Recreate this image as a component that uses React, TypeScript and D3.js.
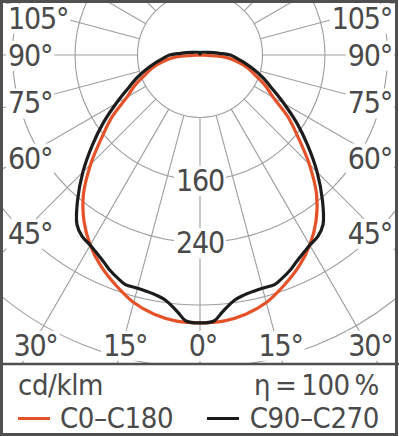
import React, { useEffect, useRef } from 'react';
import * as d3 from 'd3';

// C0-C180 (red), cd/klm vs gamma angle, symmetric
const RED_ANGLES = [0, 5, 10, 15, 20, 25, 30, 35, 40, 45, 50, 55, 60, 65, 70, 75, 80, 85, 90];
const RED_VALUES = [343, 342, 337, 328, 314, 299, 281, 259, 232, 198, 164, 137, 108, 92, 75, 63, 48, 32, 0];

// C90-C270 (black)
const BLACK_ANGLES = [0, 3, 5, 8, 10, 13, 15, 18, 20, 23, 25, 28, 30, 33, 36, 40, 45, 50, 55, 60, 65, 70, 75, 80, 85, 90, 95, 100, 110, 120, 135, 150, 165, 180];
const BLACK_VALUES = [343, 341, 330, 317, 313, 310, 309, 309, 305, 298, 292, 285, 281, 277, 268, 244, 212, 180, 151, 124, 102, 86, 71, 58, 47, 39, 25, 18, 10, 7, 5, 4, 3, 1];

const RING_VALUES = [80, 160, 240, 320, 400, 480];
const RING_LABELS = [160, 240];
const SPOKE_STEP = 15;
const ANGLE_LABELS = [0, 15, 30, 45, 60, 75, 90, 105];

const SERIES = [
  { name: 'C0\u2013C180', color: '#e5522a', angles: RED_ANGLES, values: RED_VALUES },
  { name: 'C90\u2013C270', color: '#1c1c1c', angles: BLACK_ANGLES, values: BLACK_VALUES },
];

const UNIT = 'cd/klm';
const EFFICIENCY = '\u03b7\u2009=\u2009100\u2009%';

const W = 399;
const H = 436;
const FONT = '"Liberation Sans Narrow", "DejaVu Sans Condensed", Roboto, sans-serif';
const TEXT = '#4a4a4a';
const GRID = '#9d9d9d';

const App = () => {
  const svgRef = useRef(null);

  useEffect(() => {
    const svg = d3.select(svgRef.current);
    svg.selectAll('*').remove();

    const area = { left: 3, top: 3, right: 395, bottom: 364 };
    const cx = 200;
    const cy = 55;
    const r = d3.scaleLinear().domain([0, 320]).range([0, 250]);
    const rad = (a) => (a * Math.PI) / 180;
    const pt = (a, v) => [cx + r(v) * Math.sin(rad(a)), cy + r(v) * Math.cos(rad(a))];

    svg.append('defs').append('clipPath').attr('id', 'plot-clip')
      .append('rect')
      .attr('x', area.left).attr('y', area.top)
      .attr('width', area.right - area.left).attr('height', area.bottom - area.top);

    const plot = svg.append('g').attr('clip-path', 'url(#plot-clip)');

    // rings
    plot.selectAll('circle.ring')
      .data(RING_VALUES)
      .enter().append('circle')
      .attr('class', 'ring')
      .attr('cx', cx).attr('cy', cy)
      .attr('r', d => r(d))
      .attr('fill', 'none')
      .attr('stroke', GRID)
      .attr('stroke-width', 1.1);

    // spokes, starting at the first ring
    plot.selectAll('line.spoke')
      .data(d3.range(0, 360, SPOKE_STEP))
      .enter().append('line')
      .attr('class', 'spoke')
      .attr('x1', d => pt(d, RING_VALUES[0])[0])
      .attr('y1', d => pt(d, RING_VALUES[0])[1])
      .attr('x2', d => pt(d, 800)[0])
      .attr('y2', d => pt(d, 800)[1])
      .attr('stroke', GRID)
      .attr('stroke-width', 1.1);

    // labels with white box behind
    const labels = plot.append('g')
      .attr('font-family', FONT)
      .attr('font-size', 30)
      .attr('letter-spacing', -1.2)
      .attr('fill', TEXT);

    const addLabel = (txt, x, y, anchor) => {
      const g = labels.append('g');
      const t = g.append('text')
        .attr('x', x).attr('y', y)
        .attr('dy', '0.36em')
        .attr('text-anchor', anchor)
        .text(txt);
      const b = t.node().getBBox();
      g.insert('rect', 'text')
        .attr('x', b.x - 2).attr('y', b.y + 3)
        .attr('width', b.width + 4).attr('height', b.height - 5)
        .attr('fill', '#fff');
    };

    RING_LABELS.forEach(v => addLabel(String(v), cx, cy + r(v), 'middle'));

    const bottomY = 345;
    const sideX = 178;
    ANGLE_LABELS.forEach(a => {
      [-1, 1].forEach(s => {
        if (a === 0 && s === 1) return;
        const txt = `${a}\u00b0`;
        if (a <= 30) {
          const x = cx + s * (bottomY - cy) * Math.tan(rad(a));
          addLabel(txt, x + 3, bottomY, 'middle');
        } else {
          const y = a === 90 ? cy : cy + sideX / Math.tan(rad(a));
          addLabel(txt, s < 0 ? 8 : 392, Math.max(y, 18), s < 0 ? 'start' : 'end');
        }
      });
    });

    // curves
    const line = d3.lineRadial()
      .angle(d => Math.PI - rad(d.a))
      .radius(d => r(d.v))
      .curve(d3.curveCatmullRomClosed.alpha(0.5));

    SERIES.forEach(sr => {
      const right = sr.angles.map((a, i) => ({ a, v: sr.values[i] }));
      const left = right.filter(d => d.a > 0 && d.a < 180).map(d => ({ a: -d.a, v: d.v })).reverse();
      const pts = left.concat(right);
      plot.append('path')
        .datum(pts)
        .attr('transform', `translate(${cx},${cy})`)
        .attr('fill', 'none')
        .attr('stroke', sr.color)
        .attr('stroke-width', 3.2)
        .attr('stroke-linejoin', 'round')
        .attr('d', line);
    });

    // legend
    const legend = svg.append('g')
      .attr('font-family', FONT)
      .attr('font-size', 29)
      .attr('letter-spacing', -0.4)
      .attr('fill', TEXT);

    legend.append('text').attr('x', 18).attr('y', 395).text(UNIT);
    legend.append('text').attr('x', 379).attr('y', 395).attr('text-anchor', 'end').text(EFFICIENCY);

    const items = [{ x: 18, end: false }, { x: 207, end: true }];
    SERIES.forEach((sr, i) => {
      const it = items[i];
      legend.append('line')
        .attr('x1', it.x).attr('x2', it.x + 32)
        .attr('y1', 418.5).attr('y2', 418.5)
        .attr('stroke', sr.color)
        .attr('stroke-width', 3);
      legend.append('text')
        .attr('x', it.end ? 379 : it.x + 42)
        .attr('y', 428)
        .attr('text-anchor', it.end ? 'end' : 'start')
        .text(sr.name);
    });

    // frame
    svg.append('line')
      .attr('x1', 0).attr('x2', W)
      .attr('y1', area.bottom).attr('y2', area.bottom)
      .attr('stroke', '#505050').attr('stroke-width', 2.5);
    svg.append('rect')
      .attr('x', 1.5).attr('y', 1.5)
      .attr('width', W - 4).attr('height', H - 3)
      .attr('fill', 'none')
      .attr('stroke', '#505050')
      .attr('stroke-width', 3);
  }, []);

  return (
    <svg ref={svgRef} width={W} height={H}
      style={{ position: 'absolute', left: 0, top: 0, background: '#fff' }} />
  );
};

export default App;
